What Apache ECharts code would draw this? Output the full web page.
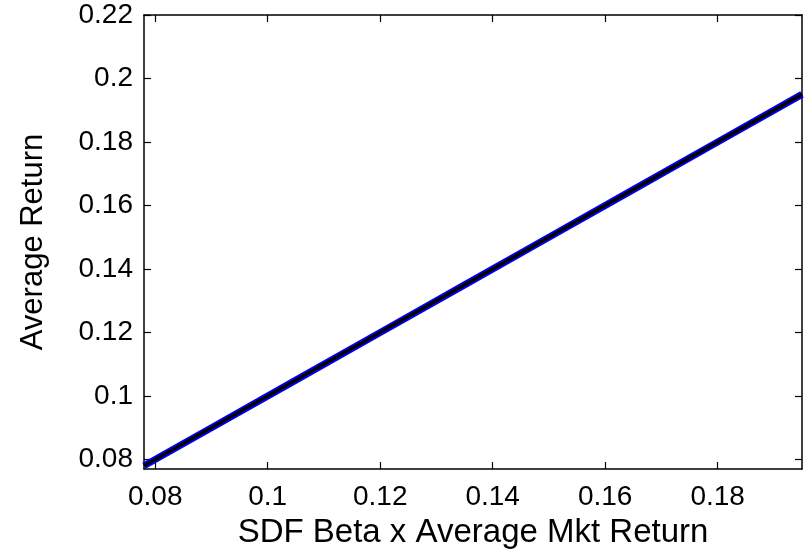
<!DOCTYPE html>
<html>
<head>
<meta charset="utf-8">
<script src="https://cdn.jsdelivr.net/npm/echarts@6/dist/echarts.min.js"></script>
<style>
  html, body { margin: 0; padding: 0; background: #fff; }
  #chart { width: 804px; height: 554px; }
</style>
</head>
<body>
<div id="chart"></div>
<script>
// Portfolio points: SDF beta times average market return vs average return
const sdfBetaMkt = [0.078, 0.09, 0.105, 0.12, 0.135, 0.15, 0.165, 0.18, 0.195];
const avgReturn  = [0.078, 0.09, 0.105, 0.12, 0.135, 0.15, 0.165, 0.18, 0.195];
// Fitted 45-degree line
const fitX = [0.078, 0.195];
const fitY = [0.078, 0.195];
// Tick labels
const xTicks = [0.08, 0.1, 0.12, 0.14, 0.16, 0.18];
const yTicks = [0.08, 0.1, 0.12, 0.14, 0.16, 0.18, 0.2, 0.22];

const FONT = '"Liberation Sans", Arial, Helvetica, sans-serif';
const tickFmt = v => String(+v.toFixed(2));

const axisLineStyle = { show: true, lineStyle: { color: '#000', width: 1.5 } };
const tickStyle = ticks => ({ show: true, inside: true, length: 7, customValues: ticks, lineStyle: { color: '#000', width: 1.2 } });

const chart = echarts.init(document.getElementById('chart'), null, { renderer: 'canvas' });
chart.setOption({
  animation: false,
  backgroundColor: '#fff',
  grid: { left: 144, top: 15, right: 2, bottom: 84, containLabel: false },
  xAxis: [
    {
      type: 'value', min: 0.078, max: 0.195, position: 'bottom',
      name: 'SDF Beta x Average Mkt Return', nameLocation: 'middle', nameGap: 47,
      nameTextStyle: { fontFamily: FONT, fontSize: 33, color: '#000' },
      axisLine: axisLineStyle,
      axisTick: tickStyle(xTicks),
      axisLabel: { customValues: xTicks, formatter: tickFmt, fontFamily: FONT, fontSize: 28, color: '#000', margin: 14 },
      splitLine: { show: false }
    },
    {
      type: 'value', min: 0.078, max: 0.195, position: 'top',
      axisLine: axisLineStyle,
      axisTick: tickStyle(xTicks),
      axisLabel: { show: false },
      splitLine: { show: false }
    }
  ],
  yAxis: [
    {
      type: 'value', min: 0.077, max: 0.22, position: 'left',
      name: 'Average Return', nameLocation: 'middle', nameGap: 95, nameRotate: 90,
      nameTextStyle: { fontFamily: FONT, fontSize: 31, color: '#000' },
      axisLine: axisLineStyle,
      axisTick: tickStyle(yTicks),
      axisLabel: { customValues: yTicks, formatter: tickFmt, fontFamily: FONT, fontSize: 28, color: '#000', margin: 11 },
      splitLine: { show: false }
    },
    {
      type: 'value', min: 0.077, max: 0.22, position: 'right',
      axisLine: axisLineStyle,
      axisTick: tickStyle(yTicks),
      axisLabel: { show: false },
      splitLine: { show: false }
    }
  ],
  series: [
    {
      type: 'line', xAxisIndex: 0, yAxisIndex: 0,
      data: sdfBetaMkt.map((x, i) => [x, avgReturn[i]]),
      showSymbol: false, clip: true,
      lineStyle: { color: '#0000ff', width: 7 }
    },
    {
      type: 'line', xAxisIndex: 0, yAxisIndex: 0,
      data: fitX.map((x, i) => [x, fitY[i]]),
      showSymbol: false, clip: true,
      lineStyle: { color: '#000', width: 3.5 }
    }
  ]
});
</script>
</body>
</html>
